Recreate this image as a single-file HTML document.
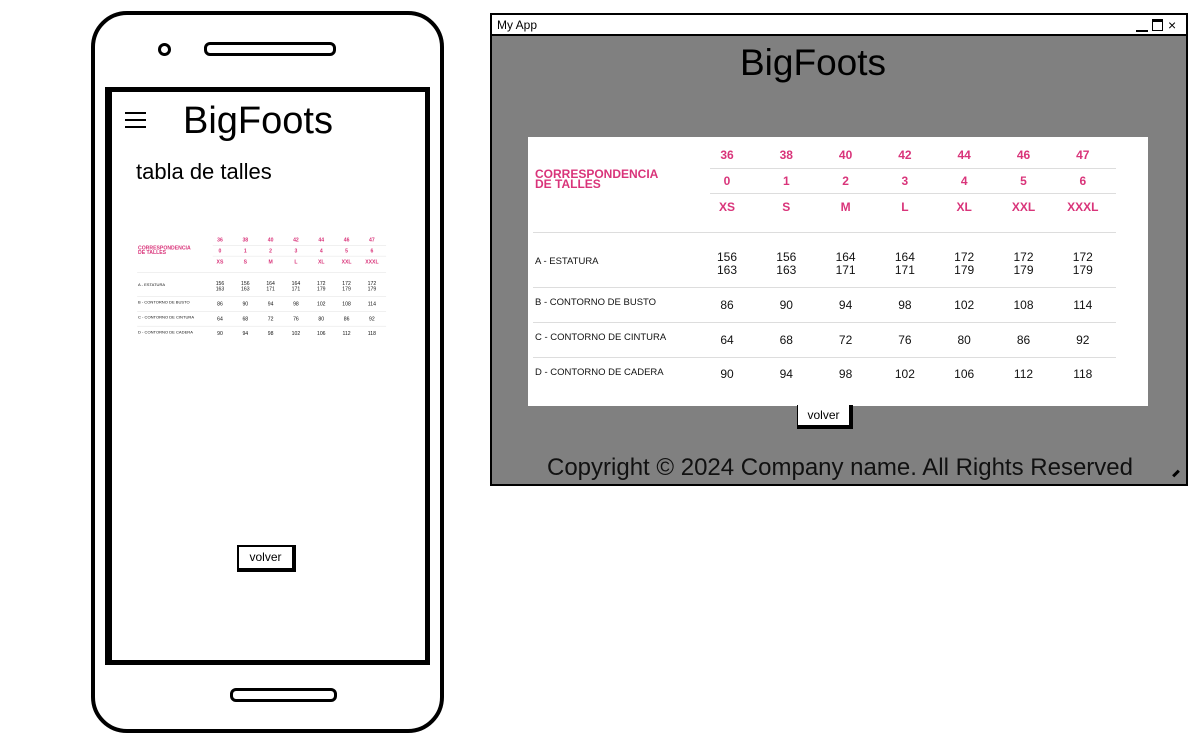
<!DOCTYPE html>
<html><head><meta charset="utf-8"><style>
body{margin:0;width:1189px;height:735px;background:#fff;position:relative;overflow:hidden;font-family:"Liberation Sans",sans-serif}
.a{position:absolute}
.tbl{position:absolute;width:620px;height:269px;background:#fff}
.tbl .t{position:absolute;transform:translateX(-50%);white-space:nowrap}
.pk{color:#d9347a;font-weight:bold;font-size:12px}
.bk{color:#111;font-size:12px;text-align:center;line-height:13px}
.lb{position:absolute;left:7px;font-size:9.5px;color:#111}
.ln{position:absolute;height:1px;background:#ddd}
</style></head><body>
<div class="a" style="left:91px;top:11px;width:353px;height:722px;border:4px solid #000;border-radius:36px;box-sizing:border-box"></div>
<div class="a" style="left:158px;top:43px;width:7px;height:7px;border:3px solid #000;border-radius:50%"></div>
<div class="a" style="left:204px;top:42px;width:126px;height:8px;border:3px solid #000;border-radius:6px"></div>
<div class="a" style="left:105px;top:87px;width:313px;height:568px;border:5px solid #000;border-left-width:7px"></div>
<div class="a" style="left:230px;top:688px;width:101px;height:8px;border:3px solid #000;border-radius:6px"></div>
<div class="a" style="left:125px;top:112px;width:21px;height:16px;border-top:2px solid #000;border-bottom:2px solid #000;box-sizing:border-box"><div style="margin-top:5px;height:2px;background:#000"></div></div>
<div class="a" style="left:183px;top:100px;font-size:38px">BigFoots</div>
<div class="a" style="left:136px;top:159px;font-size:22px">tabla de talles</div>
<div id="mini" class="tbl" style="left:135px;top:232px;transform:scale(0.427);transform-origin:0 0;background:transparent"></div>
<div class="a" style="left:237px;top:545px;width:53px;height:21px;border:2px solid #000;border-right-width:4px;border-bottom-width:4px;font-size:12px;text-align:center;line-height:21px;background:#fff">volver</div>

<div class="a" style="left:490px;top:13px;width:698px;height:473px;border:2px solid #000;box-sizing:border-box;background:#808080"></div>
<div class="a" style="left:492px;top:15px;width:694px;height:21px;background:#fff;border-bottom:2px solid #000;font-size:12px;line-height:20px;padding-left:5px;box-sizing:border-box">My App</div>
<div class="a" style="left:1136px;top:30px;width:12px;height:2px;background:#000"></div>
<div class="a" style="left:1152px;top:19px;width:9px;height:8px;border:1.5px solid #000;border-top-width:3px"></div>
<div class="a" style="left:1168px;top:15px;font-size:14px;line-height:20px">×</div>
<div class="a" style="left:740px;top:42px;font-size:37px">BigFoots</div>
<div id="big" class="tbl" style="left:528px;top:137px"></div>
<div class="a" style="left:797px;top:405px;width:51px;height:20px;border:1px solid #000;border-right-width:4px;border-bottom-width:4px;border-top:none;font-size:12px;text-align:center;line-height:20px;background:#fff">volver</div>
<div class="a" style="left:547px;top:454px;font-size:24px;color:#111">Copyright © 2024 Company name. All Rights Reserved</div>
<div class="a" style="left:1172px;top:472px;width:8px;height:3px;background:#000;transform:rotate(-45deg)"></div>
<script>
const sizesEU=["36","38","40","42","44","46","47"];
const sizesNum=["0","1","2","3","4","5","6"];
const sizesLetter=["XS","S","M","L","XL","XXL","XXXL"];
const rowLabels=["A - ESTATURA","B - CONTORNO DE BUSTO","C - CONTORNO DE CINTURA","D - CONTORNO DE CADERA"];
const estatura=["156\n163","156\n163","164\n171","164\n171","172\n179","172\n179","172\n179"];
const busto=[86,90,94,98,102,108,114];
const cintura=[64,68,72,76,80,86,92];
const cadera=[90,94,98,102,106,112,118];
function build(root){
  const colX=i=>199+i*59.3;
  const add=(cls,txt,x,y,name)=>{const d=document.createElement('div');d.className=cls;d.textContent=txt;d.style.left=x+'px';d.style.top=y+'px';
    
    
    if(cls.indexOf('t')>=0)d.style.whiteSpace='pre';root.appendChild(d);};
  const h=document.createElement('div');h.className='pk';h.style.cssText='position:absolute;left:7px;top:32px;line-height:10px';h.innerHTML='CORRESPONDENCIA<br>DE TALLES';
  
  
  root.appendChild(h);
  [[sizesEU,11],[sizesNum,37],[sizesLetter,63]].forEach(([arr,y],r)=>arr.forEach((v,i)=>add('t pk',v,colX(i),y,'header-cell')));
  [[182,31],[182,56],[5,95],[5,150],[5,185],[5,220]].forEach(([x,y])=>{const l=document.createElement('div');l.className='ln';l.style.left=x+'px';l.style.top=y+'px';l.style.width=(588-x)+'px';
    
    
    root.appendChild(l);});
  const rowY=[114,162,197,231];
  rowLabels.forEach((t,r)=>add('lb',t,7,[119,160,195,230][r],'row-label'));
  estatura.forEach((v,i)=>add('t bk',v,colX(i),rowY[0],'estatura-cell'));
  [busto,cintura,cadera].forEach((arr,r)=>arr.forEach((v,i)=>add('t bk',String(v),colX(i),rowY[r+1],'value-cell')));
}
build(document.getElementById('big'));
build(document.getElementById('mini'));
</script>
</body></html>
